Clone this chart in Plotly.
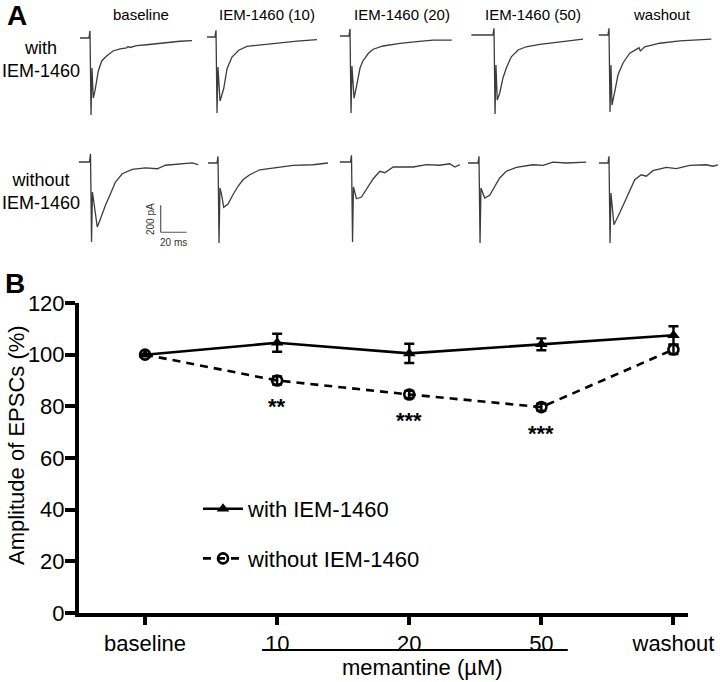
import plotly.graph_objects as go

W, H = 720, 682
FONT = "Arial, 'Liberation Sans', sans-serif"

# ---------------- Panel B data ----------------
conditions = ["baseline", "10", "20", "50", "washout"]
amp_with = [100.0, 104.6, 100.5, 104.0, 107.5]
sem_with = [0.0, 3.5, 3.7, 2.3, 3.5]
amp_without = [100.0, 90.0, 84.6, 79.7, 102.0]
sem_without = [0.0, 1.6, 1.4, 1.4, 1.8]
significance = ["", "**", "***", "***", ""]
y_ticks = [0, 20, 40, 60, 80, 100, 120]

# ---------------- Panel A data (time in ms, current in pA) ----------------
column_titles = ["baseline", "IEM-1460 (10)", "IEM-1460 (20)", "IEM-1460 (50)", "washout"]
row_titles = ["with<br>IEM-1460", "without<br>IEM-1460"]

t_with_baseline = [-7.7, -0.8, 0, 0.8, 1.5, 2.5, 3.8, 6.4, 9.0, 12.8, 17.7, 23.1, 28.2, 29.2, 30.8, 35.9, 43.6, 56.2, 69.2, 78.5]
i_with_baseline = [0, 0, 52, -570, -222, -444, -392, -244, -170, -133, -96, -81, -74, -63, -70, -57, -50, -37, -24, -20]
t_with_10 = [-6.9, -0.8, 0, 0.8, 1.5, 3.1, 5.9, 8.5, 12.3, 17.5, 23.8, 31.5, 39.2, 49.2, 62.3, 77.7]
i_with_10 = [0, 0, 50, -562, -222, -474, -383, -235, -148, -98, -69, -61, -50, -42, -30, -20]
t_with_20 = [-7.7, -0.8, 0, 0.8, 1.5, 3.1, 5.2, 7.7, 10.2, 11.5, 14.1, 17.9, 25.4, 33.1, 38.5, 51.3, 63.8, 78.2]
i_with_20 = [0, 0, 52, -570, -222, -461, -363, -237, -178, -166, -128, -98, -74, -59, -54, -42, -30, -30]
t_with_50 = [-17.4, -0.8, 0, 0.8, 1.5, 2.5, 4.4, 6.9, 9.5, 13.3, 18.5, 24.8, 35.2, 47.9, 60.8, 68.5]
i_with_50 = [0, 0, 50, -585, -222, -481, -429, -318, -244, -161, -111, -87, -69, -54, -37, -30]
t_with_washout = [-7.9, -0.8, 0, 0.8, 1.5, 2.3, 4.4, 6.9, 10.8, 15.9, 21.0, 23.1, 24.1, 27.5, 39.0, 54.4, 78.7]
i_with_washout = [0, 0, 50, -570, -222, -518, -420, -296, -207, -135, -106, -94, -118, -87, -61, -44, -30]

t_without_baseline = [-9.0, -0.8, 0, 0.8, 1.5, 3.3, 5.2, 7.7, 11.5, 15.4, 19.2, 24.4, 32.1, 42.3, 51.3, 57.7, 67.7, 78.2, 82.8]
i_without_baseline = [0, 0, 61, -592, -222, -370, -481, -420, -320, -235, -148, -87, -54, -44, -50, -24, -13, -7, -20]
t_without_10 = [-7.7, -0.8, 0, 0.8, 1.5, 2.8, 4.4, 7.7, 11.5, 15.4, 19.2, 24.4, 32.1, 42.3, 57.7, 73.1, 84.6]
i_without_10 = [0, 0, 50, -592, -185, -235, -328, -303, -235, -172, -124, -87, -50, -37, -17, -13, 0]
t_without_20 = [-9.0, -0.8, 0, 0.8, 1.5, 3.8, 7.7, 11.5, 16.7, 21.8, 25.6, 32.1, 37.2, 47.5, 57.7, 67.7, 75.6, 79.5, 83.3]
i_without_20 = [0, 0, 50, -592, -185, -272, -259, -198, -124, -69, -79, -37, -37, -37, -20, -24, -13, -37, -20]
t_without_50 = [-8.5, -0.8, 0, 0.8, 1.5, 4.4, 8.2, 12.1, 15.9, 21.0, 28.7, 41.5, 49.2, 56.9, 67.2, 82.5]
i_without_50 = [0, 0, 50, -592, -185, -259, -239, -172, -111, -61, -32, -13, -17, 7, 0, 7]
t_without_washout = [-7.7, -0.8, 0, 0.8, 1.5, 3.8, 8.2, 13.3, 19.8, 24.8, 28.7, 33.8, 44.1, 51.8, 62.1, 74.8, 80.0, 83.8]
i_without_washout = [0, 0, 50, -592, -222, -457, -370, -259, -124, -87, -98, -57, -32, -42, -17, -13, -24, -13]

scale_bar_ms = 20
scale_bar_pa = 200

traces_A = [
    [(t_with_baseline, i_with_baseline), (t_with_10, i_with_10), (t_with_20, i_with_20),
     (t_with_50, i_with_50), (t_with_washout, i_with_washout)],
    [(t_without_baseline, i_without_baseline), (t_without_10, i_without_10), (t_without_20, i_without_20),
     (t_without_50, i_without_50), (t_without_washout, i_without_washout)],
]

# ---------------- layout helpers (pixels) ----------------
def px(x):
    return x / W

def py(y):
    return 1 - y / H

PX_PER_MS = 1.3
PA_PER_PX = 7.4
stim_x = [[90, 216, 350, 494, 609], [90.5, 218, 351.5, 479, 609]]
rest_y = [[38, 37, 36, 35, 35], [162, 163, 162, 163, 163]]
LEFT, RIGHT, UP, DOWN = 25, 110, 12, 85

fig = go.Figure()
layout = {}
annotations = []
shapes = []

for r in range(2):
    for c in range(5):
        k = r * 5 + c + 2
        t, cur = traces_A[r][c]
        fig.add_trace(go.Scatter(
            x=t, y=cur, mode="lines",
            line=dict(color="#3c3c3c", width=1.3),
            xaxis=f"x{k}", yaxis=f"y{k}", showlegend=False, hoverinfo="skip"))
        ax0 = stim_x[r][c] - LEFT
        ax1 = stim_x[r][c] + RIGHT
        ay0 = rest_y[r][c] - UP
        ay1 = rest_y[r][c] + DOWN
        layout[f"xaxis{k}"] = dict(domain=[px(ax0), px(ax1)],
                                   range=[-LEFT / PX_PER_MS, RIGHT / PX_PER_MS],
                                   visible=False, anchor=f"y{k}", fixedrange=True)
        layout[f"yaxis{k}"] = dict(domain=[py(ay1), py(ay0)],
                                   range=[-DOWN * PA_PER_PX, UP * PA_PER_PX],
                                   visible=False, anchor=f"x{k}", fixedrange=True)

# column titles
title_x = [141, 267, 402, 533, 662]
for c, txt in enumerate(column_titles):
    annotations.append(dict(text=txt, x=px(title_x[c]), y=py(15), xref="paper", yref="paper",
                            showarrow=False, font=dict(size=15, family=FONT, color="black"),
                            xanchor="center", yanchor="middle"))
# row titles
row_y = [59, 192]
for r, txt in enumerate(row_titles):
    annotations.append(dict(text=txt, x=px(41), y=py(row_y[r]), xref="paper", yref="paper",
                            showarrow=False, font=dict(size=18, family=FONT, color="black"),
                            xanchor="center", yanchor="middle"))
# panel letters
annotations.append(dict(text="<b>A</b>", x=px(17), y=py(16), xref="paper", yref="paper",
                        showarrow=False, xanchor="center", yanchor="middle",
                        font=dict(size=28, family=FONT, color="black")))
annotations.append(dict(text="<b>B</b>", x=px(15), y=py(283), xref="paper", yref="paper",
                        showarrow=False, xanchor="center", yanchor="middle",
                        font=dict(size=28, family=FONT, color="black")))

# scale bar (drawn in the data units of the lower-left trace panel)
sb_x, sb_y = 54, -520
shapes.append(dict(type="line", xref="x7", yref="y7", x0=sb_x, x1=sb_x, y0=sb_y, y1=sb_y + scale_bar_pa,
                   line=dict(color="#555555", width=1.2)))
shapes.append(dict(type="line", xref="x7", yref="y7", x0=sb_x, x1=sb_x + scale_bar_ms, y0=sb_y, y1=sb_y,
                   line=dict(color="#555555", width=1.2)))
annotations.append(dict(text=f"{scale_bar_pa} pA", x=sb_x - 1.5, y=sb_y + scale_bar_pa / 2, xref="x7", yref="y7",
                        showarrow=False, textangle=-90, xanchor="right", yanchor="middle",
                        font=dict(size=10, family=FONT, color="#333333")))
annotations.append(dict(text=f"{scale_bar_ms} ms", x=sb_x + scale_bar_ms / 2, y=sb_y - 20, xref="x7", yref="y7",
                        showarrow=False, xanchor="center", yanchor="top",
                        font=dict(size=10, family=FONT, color="#333333")))

# ---------------- Panel B ----------------
fig.add_trace(go.Scatter(
    x=conditions, y=amp_without, mode="lines+markers", name="without IEM-1460",
    line=dict(color="black", width=2.6, dash="8px,6px"),
    marker=dict(symbol="circle-open", size=10, color="black", line=dict(width=2.6)),
    error_y=dict(type="data", array=sem_without, color="black", thickness=2.4, width=5),
    legendgroup="without", legendrank=2, hoverinfo="skip"))
fig.add_trace(go.Scatter(
    x=conditions, y=amp_with, mode="lines+markers", name="with IEM-1460",
    line=dict(color="black", width=2.6),
    marker=dict(symbol="triangle-up", size=11, color="black"),
    error_y=dict(type="data", array=sem_with, color="black", thickness=2.4, width=5),
    legendgroup="with", legendrank=1, hoverinfo="skip"))

# significance marks below the "without" points (x given as category index)
for i, s in enumerate(significance):
    if s:
        annotations.append(dict(text=f"<b>{s}</b>", x=i, y=amp_without[i] - 10.2,
                                xref="x", yref="y", showarrow=False, xanchor="center", yanchor="middle",
                                font=dict(size=22, family=FONT, color="black")))

annotations.append(dict(text="memantine (µM)", x=2.1, y=py(667), xref="x", yref="paper",
                        showarrow=False, xanchor="center", yanchor="middle",
                        font=dict(size=22, family=FONT, color="black")))
shapes.append(dict(type="line", xref="x", yref="paper", x0=0.886, x1=3.2, y0=py(650), y1=py(650),
                   line=dict(color="black", width=2)))
annotations.append(dict(text="Amplitude of EPSCs (%)", x=px(16), y=py(445), xref="paper", yref="paper",
                        showarrow=False, textangle=-90, xanchor="center", yanchor="middle",
                        font=dict(size=22, family=FONT, color="black")))

layout["xaxis"] = dict(domain=[px(79), px(688)], type="category", categoryorder="array",
                       categoryarray=conditions, range=[-0.5, 4.11],
                       showline=True, linewidth=4, linecolor="black", ticks="outside",
                       ticklen=8, tickwidth=4, tickcolor="black", showgrid=False, zeroline=False,
                       tickfont=dict(size=22, family=FONT, color="black"), anchor="y",
                       automargin=False, fixedrange=True)
layout["yaxis"] = dict(domain=[py(613), py(303)], range=[0, 120], tickvals=y_ticks,
                       showline=True, linewidth=4, linecolor="black", ticks="outside",
                       ticklen=10, tickwidth=4, tickcolor="black", showgrid=False, zeroline=False,
                       tickfont=dict(size=22, family=FONT, color="black"), anchor="x",
                       ticklabelstandoff=-4,
                       automargin=False, fixedrange=True)

fig.update_layout(
    **layout,
    width=W, height=H,
    margin=dict(l=0, r=0, t=0, b=0),
    paper_bgcolor="white", plot_bgcolor="rgba(0,0,0,0)",
    font=dict(family=FONT, color="black"),
    showlegend=True,
    legend=dict(x=px(198), y=py(488), xanchor="left", yanchor="top",
                font=dict(size=22, family=FONT, color="black"),
                traceorder="grouped", tracegroupgap=18, bgcolor="rgba(0,0,0,0)",
                itemwidth=40),
    annotations=annotations,
    shapes=shapes,
)

fig.write_html("out.html", config={"displayModeBar": False},
               post_script="document.body.style.margin='0';document.body.style.overflow='hidden';")
